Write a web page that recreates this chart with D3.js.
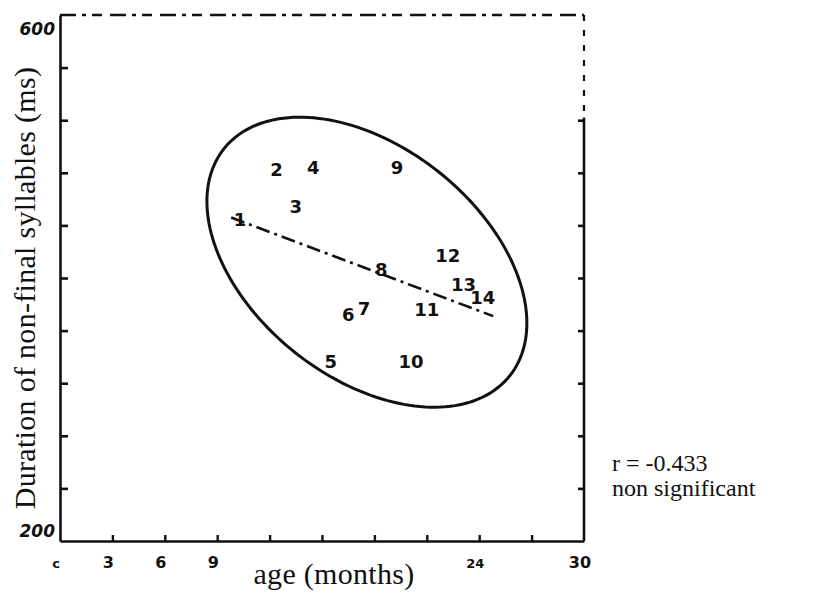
<!DOCTYPE html>
<html>
<head>
<meta charset="utf-8">
<script src="https://cdn.jsdelivr.net/npm/d3@7/dist/d3.min.js"></script>
<style>
  body { margin: 0; background: #fff; }
  svg { display: block; }
</style>
</head>
<body>
<div id="chart"></div>
<script>
// age axis (months) and duration axis (ms)
const ageTicks   = [0, 3, 6, 9, 12, 15, 18, 21, 24, 27, 30];
const ageLabels  = [[0, "c"], [3, "3"], [6, "6"], [9, "9"], [24, "24"], [30, "30"]];
const durTicks   = [200, 240, 280, 320, 360, 400, 440, 480, 520, 560, 600];
const durLabels  = [[200, "200"], [600, "600"]];

// one point per child, drawn as its number
const childIds   = [1, 2, 3, 4, 5, 6, 7, 8, 9, 10, 11, 12, 13, 14];
const ages       = [10.3, 12.4, 13.5, 14.5, 15.5, 16.5, 17.4, 18.4, 19.3, 20.1, 21.0, 22.2, 23.1, 24.2];
const durations  = [444, 482, 454, 484, 336, 372, 377, 406, 484, 336, 376, 417, 395, 385];

// regression line end points (age, ms)
const fitAges      = [9.8, 24.8];
const fitDurations = [446, 371];

// dispersion ellipse: centre and two conjugate semi-diameters (age, ms)
const ellipseCentre = [17.57, 412];
const ellipseAxisA  = [8.19, -86.2];
const ellipseAxisB  = [-4.10, -68.8];

const stats = ["r = -0.433", "non significant"];

const width = 814, height = 592;

const svg = d3.select("#chart").append("svg")
    .attr("width", width)
    .attr("height", height);

const x = d3.scaleLinear().domain([0, 30]).range([60, 584]);
const y = d3.scaleLinear().domain([200, 600]).range([541, 15]);

const ink = "#111";

// left axis, ticks pointing in
const yAxis = svg.append("g")
    .attr("transform", `translate(${x(0)},0)`)
    .call(d3.axisLeft(y).tickValues(durTicks.slice(1, -1)).tickSize(-8).tickSizeOuter(0).tickFormat(""));
yAxis.select(".domain").attr("stroke", ink).attr("stroke-width", 2.6);
yAxis.selectAll(".tick line").attr("stroke", ink).attr("stroke-width", 2.6);

// bottom axis, ticks pointing up
const xAxis = svg.append("g")
    .attr("transform", `translate(0,${y(200)})`)
    .call(d3.axisBottom(x).tickValues(ageTicks.slice(1, -1)).tickSize(-6).tickSizeOuter(0).tickFormat(""));
xAxis.select(".domain").attr("stroke", ink).attr("stroke-width", 2.6);
xAxis.selectAll(".tick line").attr("stroke", ink).attr("stroke-width", 2.4);

// right axis: dashed at the top, solid below
const rAxis = svg.append("g")
    .attr("transform", `translate(${x(30)},0)`)
    .call(d3.axisRight(y).tickValues(durTicks.slice(1, -2)).tickSize(-6).tickSizeOuter(0).tickFormat(""));
rAxis.select(".domain").remove();
rAxis.selectAll(".tick line").attr("stroke", ink).attr("stroke-width", 2.6);
rAxis.append("line")
    .attr("y1", y(600)).attr("y2", y(522))
    .attr("stroke", ink).attr("stroke-width", 2.2)
    .attr("stroke-dasharray", "6,9");
rAxis.append("line")
    .attr("y1", y(522)).attr("y2", y(200))
    .attr("stroke", ink).attr("stroke-width", 2.6);

// top border, dashed
svg.append("line")
    .attr("x1", x(0)).attr("x2", x(30))
    .attr("y1", y(600)).attr("y2", y(600))
    .attr("stroke", ink).attr("stroke-width", 2.4)
    .attr("stroke-dasharray", "16,6,4,6,10,8");

// tick labels
const tickFont = "'DejaVu Sans', sans-serif";
svg.append("g").selectAll("text")
    .data(ageLabels)
    .join("text")
    .attr("x", d => x(d[0]) - 4)
    .attr("y", y(200) + 27)
    .attr("text-anchor", "middle")
    .attr("font-family", tickFont)
    .attr("font-size", d => d[1] === "24" || d[1] === "c" ? 13 : 16)
    .attr("font-weight", "bold")
    .attr("fill", ink)
    .text(d => d[1]);

svg.append("g").selectAll("text")
    .data(durLabels)
    .join("text")
    .attr("x", x(0) - 5)
    .attr("y", d => y(d[0]) + (d[0] === 600 ? 20 : -4))
    .attr("text-anchor", "end")
    .attr("font-family", tickFont)
    .attr("font-size", 17)
    .attr("font-weight", "bold")
    .attr("font-style", "italic")
    .attr("fill", ink)
    .text(d => d[1]);

// axis titles
const serif = "'Liberation Serif', 'Times New Roman', serif";
svg.append("text")
    .attr("transform", `translate(35,${(y(200) + y(600)) / 2 + 10}) rotate(-90)`)
    .attr("text-anchor", "middle")
    .attr("font-family", serif)
    .attr("font-size", 30)
    .attr("letter-spacing", 0.3)
    .attr("fill", ink)
    .text("Duration of non-final syllables (ms)");

svg.append("text")
    .attr("x", 334)
    .attr("y", 584)
    .attr("text-anchor", "middle")
    .attr("font-family", serif)
    .attr("font-size", 30)
    .attr("letter-spacing", 0.3)
    .attr("fill", ink)
    .text("age (months)");

// ellipse
const ts = d3.range(0, 2 * Math.PI + 0.001, Math.PI / 90);
const ellipsePts = ts.map(t => [
    ellipseCentre[0] + ellipseAxisA[0] * Math.cos(t) + ellipseAxisB[0] * Math.sin(t),
    ellipseCentre[1] + ellipseAxisA[1] * Math.cos(t) + ellipseAxisB[1] * Math.sin(t)
]);
svg.append("path")
    .datum(ellipsePts)
    .attr("d", d3.line().x(d => x(d[0])).y(d => y(d[1])).curve(d3.curveLinearClosed))
    .attr("fill", "none")
    .attr("stroke", ink)
    .attr("stroke-width", 3);

// regression line, dash-dot
svg.append("path")
    .datum(d3.zip(fitAges, fitDurations))
    .attr("d", d3.line().x(d => x(d[0])).y(d => y(d[1])))
    .attr("fill", "none")
    .attr("stroke", ink)
    .attr("stroke-width", 2.6)
    .attr("stroke-dasharray", "14,5,3,5");

// numbered points
svg.append("g").selectAll("text")
    .data(childIds.map((id, i) => ({ id, age: ages[i], dur: durations[i] })))
    .join("text")
    .attr("x", d => x(d.age))
    .attr("y", d => y(d.dur))
    .attr("dy", "0.35em")
    .attr("text-anchor", "middle")
    .attr("font-family", tickFont)
    .attr("font-size", 18)
    .attr("font-weight", "bold")
    .attr("fill", ink)
    .text(d => d.id);

// correlation note
svg.append("g").selectAll("text")
    .data(stats)
    .join("text")
    .attr("x", 612)
    .attr("y", (d, i) => 471 + i * 25)
    .attr("font-family", serif)
    .attr("font-size", 24)
    .attr("fill", ink)
    .text(d => d);
</script>
</body>
</html>
